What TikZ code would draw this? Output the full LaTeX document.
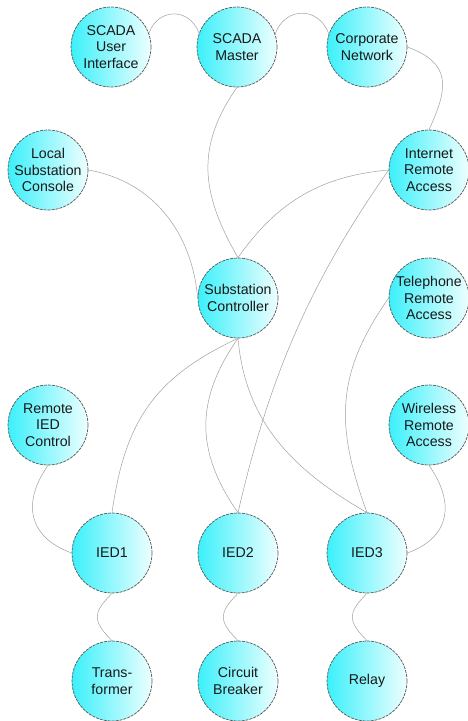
\documentclass[tikz,border=0pt]{standalone}
\usepackage{fontspec}
\setmainfont{Liberation Sans}
\definecolor{cyanc}{RGB}{60,240,250}
\definecolor{whitec}{RGB}{238,255,255}
\definecolor{rimc}{RGB}{85,85,85}
\definecolor{edgec}{RGB}{160,160,160}
\definecolor{txtc}{RGB}{25,25,25}
\tikzset{
  dev/.style={circle, minimum size=80pt, inner sep=0pt, draw=rimc,
    line width=0.7pt, dash pattern=on 3pt off 1pt,
    left color=cyanc, right color=whitec, align=center, text=txtc,
    font=\fontsize{14.2}{16.7}\selectfont},
  link/.style={draw=edgec, line width=0.5pt}
}
\begin{document}
\begin{tikzpicture}[x=1pt,y=1pt]
\useasboundingbox (0,0) rectangle (467,-721);
% row 1
\node[dev] (ui) at (111,-47) {SCADA\\User\\Interface};
\node[dev] (master) at (237,-47) {SCADA\\Master};
\node[dev] (cn) at (367,-47) {Corporate\\Network};
% row 2
\node[dev] (lsc) at (48,-170) {Local\\Substation\\Console};
\node[dev] (ira) at (429,-170) {Internet\\Remote\\Access};
% row 3
\node[dev] (sc) at (238,-298) {Substation\\Controller};
\node[dev] (tra) at (429,-298) {Telephone\\Remote\\Access};
% row 4
\node[dev] (ric) at (48,-425) {Remote\\IED\\Control};
\node[dev] (wra) at (429,-425) {Wireless\\Remote\\Access};
% row 5
\node[dev] (ied1) at (112,-553) {IED1};
\node[dev] (ied2) at (238,-553) {IED2};
\node[dev] (ied3) at (367,-553) {IED3};
% row 6
\node[dev] (tr) at (112,-681) {Trans-\\former};
\node[dev] (cb) at (238,-681) {Circuit\\Breaker};
\node[dev] (relay) at (367,-681) {Relay};
% connectors
\draw[link] (ui.20) to[out=70,in=110,looseness=1.4] (master.160);
\draw[link] (master.19) to[out=70,in=110,looseness=1.4] (cn.161);
\draw[link] (cn.east) to[out=-20,in=65,looseness=1.4] (ira.north);
\draw[link] (lsc.east) to[out=-10,in=95] (sc.west);
\draw[link] (master.south) to[out=-125,in=120,looseness=1.1] (sc.north);
\draw[link] (ira.west) to[out=-175,in=55] (sc.north);
\draw[link] (ira.west) to[out=-125,in=77,looseness=0.95] (ied2.north);
\draw[link] (sc.south) to[out=-155,in=82,looseness=1.1] (ied1.north);
\draw[link] (sc.south) to[out=-125,in=125,looseness=1.1] (ied2.north);
\draw[link] (sc.south) to[out=-85,in=150] (ied3.north);
\draw[link] (tra.west) to[out=-125,in=110,looseness=1.1] (ied3.north);
\draw[link] (ric.south) to[out=-125,in=160,looseness=1.3] (ied1.west);
\draw[link] (wra.south) to[out=-55,in=20,looseness=1.3] (ied3.east);
\draw[link] (ied1.south) to[out=-135,in=135,looseness=1.5] (tr.north);
\draw[link] (ied2.south) to[out=-135,in=135,looseness=1.5] (cb.north);
\draw[link] (ied3.south) to[out=-135,in=135,looseness=1.5] (relay.north);
\end{tikzpicture}
\end{document}
